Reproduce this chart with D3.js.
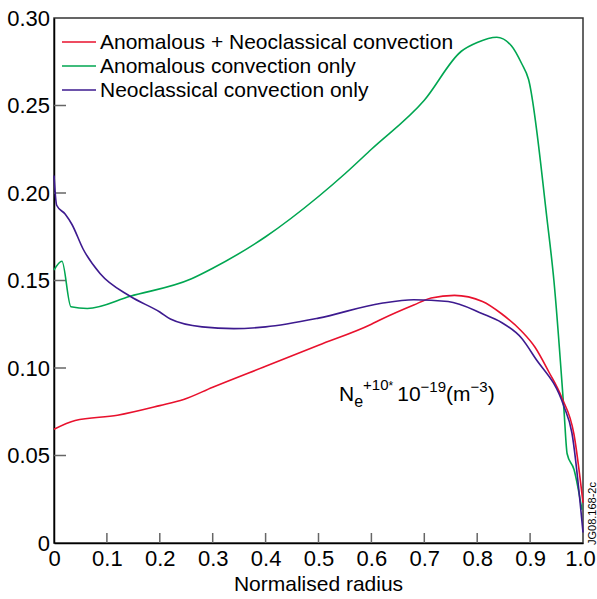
<!DOCTYPE html>
<meta charset="utf-8">
<style>
body { margin: 0; background: #fff; }
svg { font-family: "Liberation Sans", Arial, sans-serif; }
.tick text { fill: #000; }
</style>
<svg width="597" height="599"></svg>
<script src="https://d3js.org/d3.v7.min.js"></script>
<script>

var xTicks = [0, 0.1, 0.2, 0.3, 0.4, 0.5, 0.6, 0.7, 0.8, 0.9, 1.0],
    yTicks = [0, 0.05, 0.10, 0.15, 0.20, 0.25, 0.30];

// Anomalous + Neoclassical convection
var redR = [0, 0.04, 0.12, 0.2, 0.245, 0.3, 0.4, 0.5, 0.6, 0.62, 0.68, 0.713, 0.757, 0.81, 0.846, 0.884, 0.909, 0.935, 0.96, 0.983, 1.0],
    redV = [0.065, 0.070, 0.073, 0.0785, 0.082, 0.089, 0.101, 0.113, 0.125, 0.128, 0.136, 0.140, 0.1415, 0.138, 0.131, 0.121, 0.112, 0.098, 0.083, 0.062, 0.023];

// Anomalous convection only
var greenR = [0, 0.015, 0.032, 0.063, 0.144, 0.26, 0.3, 0.4, 0.5, 0.55, 0.6, 0.7, 0.77, 0.8, 0.837, 0.865, 0.884, 0.897, 0.932, 0.945, 0.964, 0.97, 0.983, 0.998],
    greenV = [0.156, 0.161, 0.135, 0.134, 0.141, 0.151, 0.157, 0.175, 0.198, 0.211, 0.225, 0.253, 0.281, 0.286, 0.289, 0.284, 0.274, 0.265, 0.185, 0.150, 0.076, 0.051, 0.042, 0.019];

// Neoclassical convection only
var purpleR = [0, 0.005, 0.021, 0.034, 0.055, 0.087, 0.144, 0.2, 0.22, 0.28, 0.34, 0.4, 0.5, 0.619, 0.68, 0.745, 0.81, 0.846, 0.884, 0.909, 0.964, 0.979, 1.0],
    purpleV = [0.210, 0.193, 0.188, 0.182, 0.168, 0.154, 0.141, 0.132, 0.128, 0.1235, 0.1225, 0.1235, 0.1285, 0.137, 0.139, 0.138, 0.131, 0.126, 0.117, 0.106, 0.078, 0.063, 0.006];

var seriesNames = ["Anomalous + Neoclassical convection", "Anomalous convection only", "Neoclassical convection only"],
    seriesColors = ["#e8112d", "#00a651", "#3d1a8f"];

var svg = d3.select("svg"),
    margin = {top: 18, right: 14, bottom: 56, left: 54},
    width = +svg.attr("width") - margin.left - margin.right,
    height = +svg.attr("height") - margin.top - margin.bottom;

var x = d3.scaleLinear().domain([0, 1]).range([0, width]),
    y = d3.scaleLinear().domain([0, 0.3]).range([height, 0]);

var g = svg.append("g")
    .attr("transform", "translate(" + margin.left + "," + margin.top + ")");

// frame
g.append("rect")
    .attr("width", width)
    .attr("height", height)
    .attr("fill", "none")
    .attr("stroke", "#333")
    .attr("stroke-width", 1.5);

var xAxis = g.append("g")
    .attr("transform", "translate(0," + height + ")")
    .call(d3.axisBottom(x).tickValues(xTicks).tickSize(0).tickPadding(7)
      .tickFormat(function(d) { return d === 0 ? "0" : d === 1 ? "1.0" : d3.format(".1f")(d); }));
xAxis.select(".domain").attr("stroke", "#000").attr("stroke-width", 1.5);
xAxis.selectAll("text").attr("font-size", 22).attr("font-family", "Liberation Sans, Arial, sans-serif").attr("dy", "0.72em")
    .attr("dx", function(d) { return d === 1 ? -3 : 0; });

var yAxis = g.append("g")
    .call(d3.axisLeft(y).tickValues(yTicks).tickSize(0).tickPadding(4)
      .tickFormat(function(d) { return d === 0 ? "0" : d3.format(".2f")(d); }));
yAxis.select(".domain").attr("stroke", "#000").attr("stroke-width", 1.5);
yAxis.selectAll("text").attr("font-size", 22).attr("font-family", "Liberation Sans, Arial, sans-serif");

// inward tick marks
g.selectAll(".xt")
  .data(xTicks.slice(1, -1))
  .enter().append("line")
    .attr("x1", function(d) { return x(d); })
    .attr("x2", function(d) { return x(d); })
    .attr("y1", height)
    .attr("y2", height - 10)
    .attr("stroke", "#666")
    .attr("stroke-width", 1.5);

g.selectAll(".yt")
  .data(yTicks.slice(1, -1))
  .enter().append("line")
    .attr("x1", 0)
    .attr("x2", 12)
    .attr("y1", function(d) { return y(d); })
    .attr("y2", function(d) { return y(d); })
    .attr("stroke", "#666")
    .attr("stroke-width", 1.5);

var line = d3.line()
    .x(function(d) { return x(d[0]); })
    .y(function(d) { return y(d[1]); })
    .curve(d3.curveMonotoneX);

var series = [d3.zip(redR, redV), d3.zip(greenR, greenV), d3.zip(purpleR, purpleV)];

// draw green, red, then purple on top
[1, 0, 2].forEach(function(i) {
  g.append("path")
      .datum(series[i])
      .attr("fill", "none")
      .attr("stroke", seriesColors[i])
      .attr("stroke-width", 1.6)
      .attr("d", line);
});

// legend
var legend = g.selectAll(".legend")
    .data(seriesNames)
  .enter().append("g")
    .attr("transform", function(d, i) { return "translate(8," + (24 + i * 24) + ")"; });

legend.append("line")
    .attr("x1", 0)
    .attr("x2", 34)
    .attr("stroke", function(d, i) { return seriesColors[i]; })
    .attr("stroke-width", 1.5);

legend.append("text")
    .attr("x", 38)
    .attr("dy", "0.35em")
    .attr("font-size", 21)
    .text(function(d) { return d; });

// x-axis title
svg.append("text")
    .attr("x", margin.left + width / 2)
    .attr("y", 591)
    .attr("text-anchor", "middle")
    .attr("font-size", 21)
    .text("Normalised radius");

// quantity label
var q = svg.append("text")
    .attr("x", 339)
    .attr("y", 401)
    .attr("font-size", 21);
q.append("tspan").text("N");
q.append("tspan").attr("dy", 6).attr("font-size", 16).text("e");
q.append("tspan").attr("dy", -17).attr("font-size", 15).text("+10");
q.append("tspan").attr("font-size", 12).text("*");
q.append("tspan").attr("dy", 11).attr("dx", 4).text("10");
q.append("tspan").attr("dy", -9).attr("font-size", 15).text("\u221219");
q.append("tspan").attr("dy", 9).text("(m");
q.append("tspan").attr("dy", -9).attr("font-size", 15).text("\u22123");
q.append("tspan").attr("dy", 9).text(")");

// figure code
svg.append("text")
    .attr("transform", "translate(596,545) rotate(-90)")
    .attr("font-size", 11)
    .text("JG08.168-2c");

</script>
